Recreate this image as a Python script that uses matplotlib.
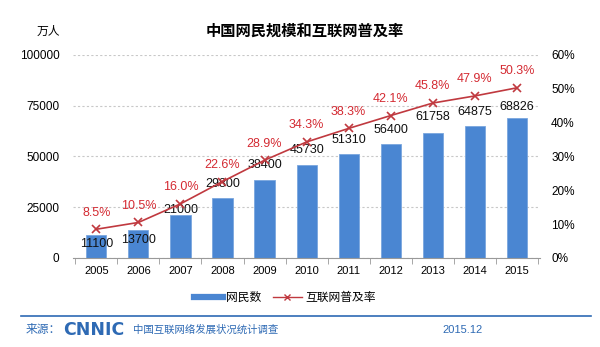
import numpy as np
import matplotlib.pyplot as plt

plt.rcParams['font.family'] = ['Liberation Sans', 'Noto Sans CJK SC', 'DejaVu Sans']

# 数据
years = ['2005', '2006', '2007', '2008', '2009', '2010', '2011', '2012', '2013', '2014', '2015']
users = [11100, 13700, 21000, 29800, 38400, 45730, 51310, 56400, 61758, 64875, 68826]
rate = [8.5, 10.5, 16.0, 22.6, 28.9, 34.3, 38.3, 42.1, 45.8, 47.9, 50.3]

# 标签纵向偏移(磅), 前几个避开折线
label_dy = [-6, -7, 4, 10, 11, 11, 10, 10, 11, 10, 8]

BAR = '#4a86d2'
LINE = '#c0393f'
TXT_RED = '#d42a32'
FOOT = '#2e6ab4'

fig = plt.figure(figsize=(6, 3.47), dpi=100)
fig.patch.set_facecolor('white')

ax = fig.add_axes([0.122, 0.2565, 0.778, 0.585])
ax.set_facecolor('none')
x = np.arange(len(years))
ax.bar(x, users, width=0.48, color=BAR, edgecolor='#7aa6de', linewidth=0.6, zorder=2)
ax.set_ylim(0, 100000)
ax.set_xlim(-0.55, len(years) - 0.45)
ax.set_yticks([0, 25000, 50000, 75000, 100000])
ax.set_yticklabels(['0', '25000', '50000', '75000', '100000'], fontsize=8.5)
ax.yaxis.grid(True, linestyle=(0, (2, 2)), color='#c8c8c8', linewidth=0.8)
ax.set_axisbelow(True)
ax.tick_params(axis='y', length=0, pad=10)
ax.set_xticks(x)
ax.set_xticklabels(years, fontsize=8)
ax.set_xticks(np.arange(len(years) + 1) - 0.5, minor=True)
ax.tick_params(axis='x', which='major', length=0, pad=6)
ax.tick_params(axis='x', which='minor', length=4, color='#999999', direction='out')
for s in ['left', 'right', 'top']:
    ax.spines[s].set_visible(False)
ax.spines['bottom'].set_color('#999999')

for xi, v, dy in zip(x, users, label_dy):
    ax.annotate(str(v), (xi, v), xytext=(0, dy), textcoords='offset points',
                ha='center', va='center', fontsize=9, color='#111111', zorder=5)

ax2 = ax.twinx()
ax2.plot(x, rate, color=LINE, linewidth=1.2, marker='x', markersize=6,
         markeredgewidth=1.2, zorder=4)
ax2.set_ylim(0, 60)
ax2.set_yticks([0, 10, 20, 30, 40, 50, 60])
ax2.set_yticklabels([f'{t}%' for t in range(0, 70, 10)], fontsize=8.5)
ax2.tick_params(axis='y', length=0, pad=8)
for s in ['left', 'right', 'top', 'bottom']:
    ax2.spines[s].set_visible(False)
for xi, r in zip(x, rate):
    ax2.annotate(f'{r:.1f}%', (xi, r), xytext=(0, 12), textcoords='offset points',
                 ha='center', va='center', fontsize=9, color=TXT_RED, zorder=5)

fig.text(0.508, 0.912, '中国网民规模和互联网普及率', ha='center', va='center',
         fontsize=11, fontweight='bold', family=['Noto Sans CJK SC'])
fig.text(0.08, 0.91, '万人', ha='center', va='center', fontsize=8.5,
         family=['Noto Sans CJK SC'])

# 图例
h1 = plt.Line2D([], [], color=BAR, linewidth=4.5)
h2 = plt.Line2D([], [], color=LINE, linewidth=1, marker='x', markersize=5)
fig.legend([h1, h2], ['网民数', '互联网普及率'], loc='center', bbox_to_anchor=(0.475, 0.143),
           ncol=2, frameon=False, handlelength=2.4, columnspacing=1.0,
           handletextpad=0.3, prop={'family': ['Noto Sans CJK SC'], 'size': 8.5})

# 底部
fig.add_artist(plt.Line2D([0.035, 0.985], [0.089, 0.089], color=FOOT, linewidth=1.2))
fig.text(0.042, 0.05, '来源：', ha='left', va='center', fontsize=8.5, color=FOOT,
         family=['Noto Sans CJK SC'])
fig.text(0.106, 0.05, 'CNNIC', ha='left', va='center', fontsize=12.5, color=FOOT,
         fontweight='heavy', family=['DejaVu Sans'])
fig.text(0.222, 0.05, '中国互联网络发展状况统计调查', ha='left', va='center', fontsize=7.5,
         color=FOOT, family=['Noto Sans CJK SC'])
fig.text(0.805, 0.05, '2015.12', ha='right', va='center', fontsize=8, color=FOOT)

fig.savefig('out.png', dpi=100)
